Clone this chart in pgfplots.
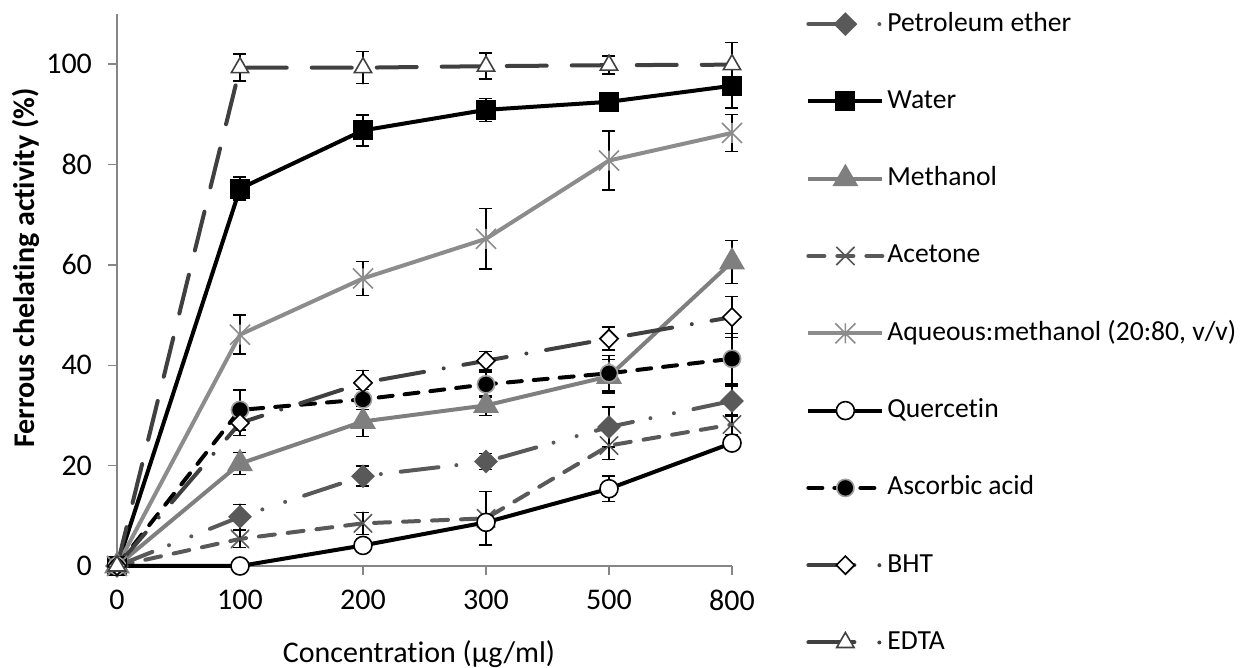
\documentclass[border=0pt]{standalone}
\usepackage{pgfplots}
\pgfplotsset{compat=1.18}
\usepackage{fontspec}
\setmainfont{Carlito}[Ligatures={NoCommon}]
\usetikzlibrary{plotmarks}
\definecolor{axgray}{HTML}{868686}
\definecolor{pegray}{HTML}{595959}
\definecolor{megray}{HTML}{7F7F7F}
\definecolor{acgray}{HTML}{595959}
\definecolor{aqgray}{HTML}{8C8C8C}
\definecolor{dkgray}{HTML}{404040}
\definecolor{asgray}{HTML}{A0A0A0}
\pgfdeclareplotmark{xstar}{%
  \pgfpathmoveto{\pgfpoint{-\pgfplotmarksize}{-\pgfplotmarksize}}%
  \pgfpathlineto{\pgfpoint{\pgfplotmarksize}{\pgfplotmarksize}}%
  \pgfpathmoveto{\pgfpoint{-\pgfplotmarksize}{\pgfplotmarksize}}%
  \pgfpathlineto{\pgfpoint{\pgfplotmarksize}{-\pgfplotmarksize}}%
  \pgfpathmoveto{\pgfpoint{0pt}{-\pgfplotmarksize}}%
  \pgfpathlineto{\pgfpoint{0pt}{\pgfplotmarksize}}%
  \pgfusepathqstroke}
\newcommand{\fs}{\fontsize{15}{18}\selectfont}
\newcommand{\fl}{\fontsize{13.8}{16}\selectfont}
\pgfplotsset{dotlegend/.style={legend image code/.code={\draw[dash pattern=on 23pt off 12.5pt on 0pt off 20pt, mark repeat=2, mark phase=2] plot coordinates {(0pt,0pt) (18.5pt,0pt) (37pt,0pt)};}}}
\begin{document}
\begin{tikzpicture}
\begin{axis}[
  scale only axis, width=307.5pt, height=276pt,
  xmin=0, xmax=5, ymin=0, ymax=110,
  axis x line*=bottom, axis y line*=left,
  axis line style={draw=axgray, line width=0.75pt, -},
  xtick={0,...,5}, xticklabels={0,100,200,300,500,800},
  ytick={0,20,...,100},
  tick align=outside, major tick length=4.5pt,
  tick style={draw=axgray, line width=0.75pt},
  ticklabel style={font=\fs},
  /pgf/number format/assume math mode=true,
  yticklabel style={xshift=-4.5pt},
  xticklabel style={yshift=-4pt},
  clip=false,
  xlabel={Concentration (µg/ml)},
  ylabel={\bfseries Ferrous chelating activity (\%)},
  every axis x label/.style={at={(axis description cs:0.491,0)}, anchor=base, yshift=-48.5pt, font=\fs, inner sep=0pt},
  every axis y label/.style={at={(axis description cs:-0.1707,0.54)}, anchor=north, rotate=90, font=\fs, inner sep=0pt},
  error bars/error bar style={black, solid, line width=0.75pt},
  error bars/error mark options={rotate=90, black, solid, mark size=3.25pt, line width=0.75pt},
  legend image code/.code={\draw[mark repeat=2,mark phase=2] plot coordinates {(0pt,0pt) (18.5pt,0pt) (37pt,0pt)};},
  legend cell align=left,
  legend style={draw=none, fill=none, at={(rel axis cs:1.1203,1.006)}, anchor=north west, inner sep=0pt,
     row sep=25.65pt, column sep=1.5pt,
     nodes={inner sep=0pt, text height=10pt, text depth=3pt, font=\fl}},
]
% Petroleum ether
\addplot[pegray, line width=2pt, line cap=round, dash pattern=on 19pt off 9pt on 0pt off 12pt on 0pt off 10pt,
  mark=square*, mark size=3.2pt, mark options={solid, rotate=45, fill=pegray, draw=pegray}, dotlegend,
  error bars/.cd, y dir=both, y explicit]
  coordinates {(0,0) +- (0,0) (1,9.8) +- (0,2.5) (2,17.9) +- (0,2.0) (3,20.8) +- (0,1.6) (4,27.7) +- (0,4.0) (5,32.9) +- (0,3.0)};
\addlegendentry{Petroleum ether}
% Water
\addplot[black, line width=2pt,
  mark=square*, mark size=4pt, mark options={solid, fill=black},
  error bars/.cd, y dir=both, y explicit]
  coordinates {(0,0) +- (0,0) (1,75.2) +- (0,2.3) (2,86.8) +- (0,3.1) (3,90.9) +- (0,2.3) (4,92.5) +- (0,1.5) (5,95.7) +- (0,4.4)};
\addlegendentry{Water}
% Methanol
\addplot[megray, line width=2pt,
  mark=triangle*, mark size=5.5pt, mark options={solid, fill=megray, draw=megray},
  error bars/.cd, y dir=both, y explicit]
  coordinates {(0,0) +- (0,0) (1,20.4) +- (0,2.2) (2,28.8) +- (0,3.0) (3,32.0) +- (0,2.0) (4,37.8) +- (0,3.3) (5,60.6) +- (0,4.3)};
\addlegendentry{Methanol}
% Acetone
\addplot[acgray, line width=2pt, line cap=round, dash pattern=on 8pt off 6.5pt,
  mark=x, mark size=6.3pt, mark options={solid, line width=0.8pt, draw=acgray},
  error bars/.cd, y dir=both, y explicit]
  coordinates {(0,0) +- (0,0) (1,5.4) +- (0,1.7) (2,8.5) +- (0,2.2) (3,9.5) +- (0,5.3) (4,24.0) +- (0,2.8) (5,28.2) +- (0,2.0)};
\addlegendentry{Acetone}
% Aqueous:methanol
\addplot[aqgray, line width=2pt,
  mark=xstar, mark size=5pt, mark options={solid, line width=0.8pt, draw=aqgray},
  error bars/.cd, y dir=both, y explicit]
  coordinates {(0,0) +- (0,0) (1,46.1) +- (0,3.9) (2,57.3) +- (0,3.4) (3,65.2) +- (0,6.0) (4,80.8) +- (0,5.9) (5,86.3) +- (0,3.7)};
\addlegendentry{Aqueous:methanol (20:80, v/v)}
% Quercetin
\addplot[black, line width=2pt,
  mark=*, mark size=4.5pt, mark options={solid, fill=white, draw=black, line width=0.8pt},
  error bars/.cd, y dir=both, y explicit]
  coordinates {(0,0) +- (0,0) (1,0) +- (0,0) (2,4.1) +- (0,0.8) (3,8.7) +- (0,1.0) (4,15.4) +- (0,2.5) (5,24.5) +- (0,1.0)};
\addlegendentry{Quercetin}
% Ascorbic acid
\addplot[black, line width=2pt, line cap=round, dash pattern=on 7pt off 6pt,
  mark=*, mark size=4.3pt, mark options={solid, fill=black, draw=asgray, line width=0.8pt},
  error bars/.cd, y dir=both, y explicit]
  coordinates {(0,0) +- (0,0) (1,31.1) +- (0,4.0) (2,33.2) +- (0,2.0) (3,36.2) +- (0,2.5) (4,38.4) +- (0,3.5) (5,41.3) +- (0,5.0)};
\addlegendentry{Ascorbic acid}
% BHT
\addplot[dkgray, line width=2pt, line cap=round, dash pattern=on 22pt off 10pt on 0pt off 10pt,
  mark=square*, mark size=3.2pt, mark options={solid, rotate=45, fill=white, draw=black, line width=0.8pt}, dotlegend,
  error bars/.cd, y dir=both, y explicit]
  coordinates {(0,0) +- (0,0) (1,28.5) +- (0,2.5) (2,36.5) +- (0,2.5) (3,40.9) +- (0,1.8) (4,45.3) +- (0,2.3) (5,49.6) +- (0,4.1)};
\addlegendentry{BHT}
% EDTA
\addplot[dkgray, line width=2pt, line cap=round, dash pattern=on 20pt off 12.5pt,
  mark=triangle*, mark size=5pt, mark options={solid, fill=white, draw=dkgray, line width=0.8pt}, dotlegend,
  error bars/.cd, y dir=both, y explicit]
  coordinates {(0,0) +- (0,0) (1,99.3) +- (0,2.7) (2,99.3) +- (0,3.2) (3,99.6) +- (0,2.6) (4,99.8) +- (0,1.8) (5,99.9) +- (0,4.4)};
\addlegendentry{EDTA}
\end{axis}
\pgfresetboundingbox
\path[use as bounding box] (-58.5pt,-51pt) rectangle (564.5pt,283pt);
\end{tikzpicture}
\end{document}
